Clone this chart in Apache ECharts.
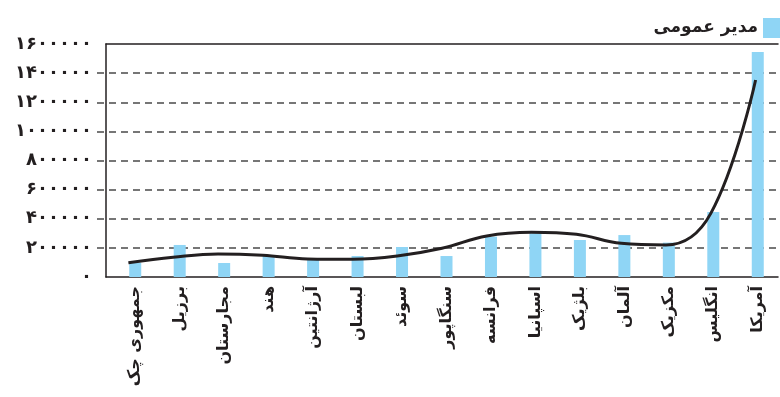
<!DOCTYPE html>
<html>
<head>
<meta charset="utf-8">
<script src="https://cdn.jsdelivr.net/npm/echarts@6/dist/echarts.min.js"></script>
<style>
  html, body { margin: 0; padding: 0; background: #fff; }
  #chart { width: 780px; height: 397px; }
</style>
</head>
<body>
<div id="chart"></div>
<script>
var countries = ['جمهوری چک', 'برزیل', 'مجارستان', 'هند', 'آرژانتین', 'لبستان', 'سوئد',
    'سنگاپور', 'فرانسه', 'اسپانیا', 'بلژیک', 'آلمان', 'مکزیک', 'انگلیس', 'آمریکا'];
var barValues = [98000, 220000, 96000, 144000, 121000, 144000, 206000,
    144000, 277000, 300000, 254000, 288000, 236000, 446000, 1545000];
var lineValues = [98000, 135000, 158000, 149000, 124000, 122000, 144000,
    197000, 282000, 307000, 293000, 231000, 220000, 437000, 1353000];
var yTicks = [0, 200000, 400000, 600000, 800000, 1000000, 1200000, 1400000, 1600000];
var seriesName = 'مدیر عمومی';

function faDigits(v) {
    return String(v).replace(/\d/g, function (d) { return '۰۱۲۳۴۵۶۷۸۹'[d]; });
}

var ink = '#231f20';
var font = 'DejaVu Sans';
var yMax = yTicks[yTicks.length - 1];
var yStep = yTicks[1] - yTicks[0];

// first and last split lines hidden (axis lines take their place)
var gridColors = yTicks.map(function (t, i) {
    return (i === 0 || i === yTicks.length - 1) ? 'rgba(0,0,0,0)' : '#4a4a4a';
});

var myChart = echarts.init(document.getElementById('chart'));
var option = {
    animation: false,
    legend: {
        data: [seriesName],
        right: -8,
        top: 13,
        align: 'right',
        icon: 'rect',
        itemWidth: 20,
        itemHeight: 20,
        itemGap: 4,
        textStyle: { fontFamily: font, fontWeight: 'bold', fontSize: 17, color: ink }
    },
    grid: [
        { left: 97, right: 0, top: 44, bottom: 120 },
        { left: 106, right: 2, top: 44, bottom: 120 },
        { left: 113, right: 0, top: 44, bottom: 120 }
    ],
    xAxis: [
        { gridIndex: 0, type: 'value', min: 0, max: 1, show: false },
        {
            gridIndex: 1, type: 'category', data: countries, position: 'bottom',
            axisLine: { lineStyle: { color: ink, width: 1.5 } },
            axisTick: { show: false }, axisLabel: { show: false }, splitLine: { show: false }
        },
        {
            gridIndex: 1, type: 'value', min: 0, max: 1, position: 'top',
            axisLine: { lineStyle: { color: ink, width: 1.5 } },
            axisTick: { show: false }, axisLabel: { show: false }, splitLine: { show: false }
        },
        {
            gridIndex: 2, type: 'category', data: countries,
            axisLine: { show: false },
            axisTick: { show: false },
            axisLabel: {
                rotate: 90,
                margin: 9,
                interval: 0,
                fontFamily: font,
                fontWeight: 'bold',
                fontSize: 16,
                color: ink
            }
        }
    ],
    yAxis: [
        {
            gridIndex: 0, type: 'value', min: 0, max: yMax, interval: yStep,
            axisLine: { show: false },
            axisTick: { show: false },
            axisLabel: {
                margin: 5,
                fontFamily: font, fontWeight: 'bold', fontSize: 18, color: ink,
                formatter: faDigits
            },
            splitLine: { lineStyle: { color: gridColors, type: [7, 5], width: 1.5 } }
        },
        {
            gridIndex: 1, type: 'value', min: 0, max: yMax, interval: yStep,
            axisLine: { show: true, lineStyle: { color: ink, width: 1.5 } },
            axisTick: { show: false }, axisLabel: { show: false }, splitLine: { show: false }
        },
        {
            gridIndex: 2, type: 'value', min: 0, max: yMax, interval: yStep,
            show: false
        }
    ],
    series: [
        {
            name: seriesName,
            type: 'bar',
            xAxisIndex: 3,
            yAxisIndex: 2,
            barWidth: 12,
            itemStyle: { color: '#8fd5f5' },
            data: barValues
        },
        {
            name: 'line',
            type: 'line',
            xAxisIndex: 1,
            yAxisIndex: 1,
            smooth: 0.4,
            symbol: 'none',
            lineStyle: { color: ink, width: 3 },
            data: lineValues,
            z: 3
        }
    ]
};
myChart.setOption(option);
</script>
</body>
</html>
